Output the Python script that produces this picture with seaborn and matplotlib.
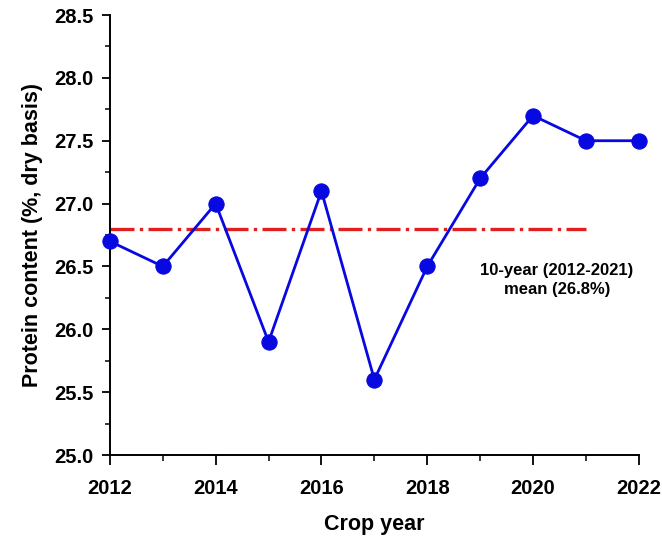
import pandas as pd
import numpy as np
import matplotlib
matplotlib.use("Agg")
import matplotlib.pyplot as plt
import seaborn as sns
from matplotlib.ticker import MultipleLocator, FormatStrFormatter

years = [2012, 2013, 2014, 2015, 2016, 2017, 2018, 2019, 2020, 2021, 2022]
protein = [26.7, 26.5, 27.0, 25.9, 27.1, 25.6, 26.5, 27.2, 27.7, 27.5, 27.5]
mean_years = [2012, 2021]
mean_value = 26.8

df = pd.DataFrame({"year": years, "protein": protein})

sns.set_style("ticks", {"axes.edgecolor": "black", "xtick.color": "black",
                        "ytick.color": "black", "text.color": "black",
                        "axes.labelcolor": "black"})
plt.rcParams["font.family"] = ["Liberation Sans", "DejaVu Sans"]
plt.rcParams["font.weight"] = "bold"

fig = plt.figure(figsize=(6.62, 5.44), dpi=100)
ax = fig.add_axes([0.166, 0.1636, 0.799, 0.8088])

# 10-year mean line
ax.plot(mean_years, [mean_value, mean_value], color="#e02020", lw=2.4,
        linestyle=(0, (7.2, 1.6, 1.0, 1.6)), zorder=1)
sns.lineplot(data=df, x="year", y="protein", ax=ax, color="#0808e0", lw=2,
             marker="o", markersize=11, markeredgecolor="#0808e0", zorder=3,
             clip_on=False)

ax.text(2020.45, 26.39, "10-year (2012-2021)\nmean (26.8%)", ha="center", va="center",
        fontsize=12, fontweight="bold", linespacing=1.35)

ax.set_xlim(2012, 2022)
ax.set_ylim(25.0, 28.5)
ax.xaxis.set_major_locator(MultipleLocator(2))
ax.xaxis.set_minor_locator(MultipleLocator(1))
ax.yaxis.set_major_locator(MultipleLocator(0.5))
ax.yaxis.set_minor_locator(MultipleLocator(0.25))
ax.yaxis.set_major_formatter(FormatStrFormatter("%.1f"))
ax.tick_params(axis="x", which="major", length=7.5, width=1.3, pad=10, labelsize=14.5)
ax.tick_params(axis="x", which="minor", length=4.5, width=1.1)
ax.tick_params(axis="y", which="major", length=5.5, width=1.3, pad=6, labelsize=14.5)
ax.tick_params(axis="y", which="minor", length=3.5, width=1.1)
for lab in ax.get_xticklabels() + ax.get_yticklabels():
    lab.set_fontweight("bold")

for s in ["left", "bottom"]:
    ax.spines[s].set_linewidth(1.4)
sns.despine(ax=ax)

ax.set_xlabel("Crop year", fontsize=15.5, fontweight="bold", labelpad=11)
ax.set_ylabel("Protein content (%, dry basis)", fontsize=15.5, fontweight="bold", labelpad=8)

fig.savefig("out.png", dpi=100)
